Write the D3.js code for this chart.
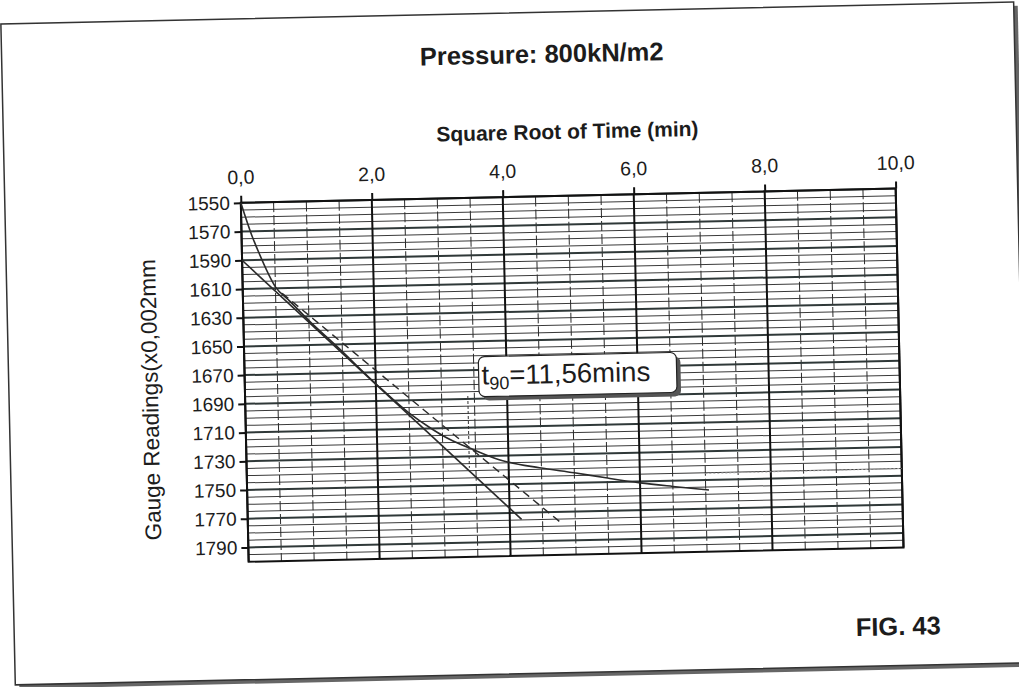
<!DOCTYPE html>
<html>
<head>
<meta charset="utf-8">
<script src="https://cdn.jsdelivr.net/npm/d3@7"></script>
<style>
  body { margin: 0; background: #fff; }
  text { font-family: "Liberation Sans", Arial, sans-serif; fill: #1c1c1c; }
</style>
</head>
<body>
<svg id="chart" width="1019" height="687"></svg>
<script>
// ---------- data ----------
const titleText = "Pressure: 800kN/m2";
const xAxisTitle = "Square Root of Time (min)";
const yAxisTitle = "Gauge Readings(x0,002mm";
const figLabel = "FIG. 43";
const xTickValues = [0, 2, 4, 6, 8, 10];
const yTickValues = [1550, 1570, 1590, 1610, 1630, 1650, 1670, 1690, 1710, 1730, 1750, 1770, 1790];

// consolidation curve (square root of time vs gauge reading)
const curveSqrtT   = [0, 0.15, 0.25, 0.5, 0.71, 1.0, 1.41, 2.0, 2.5, 2.83, 3.0, 3.16, 3.4, 3.87, 4.47, 5.0, 5.48, 6.0, 6.5, 7.05];
const curveReading = [1550, 1572, 1584, 1609, 1619, 1633, 1651, 1678, 1699, 1710, 1715, 1719, 1724, 1733, 1739, 1743, 1747, 1751, 1754, 1757];

// initial straight-line (tangent) fit
const tangentSqrtT   = [0, 4.18];
const tangentReading = [1590, 1774.6];

// 1.15x abscissa line (dashed)
const offsetSqrtT   = [0.6, 4.79];
const offsetReading = [1613.6, 1778];

// t90 marker
const t90SqrtT = 3.4;
const t90Readings = [1688, 1738];
const t90Label = { main: "t", sub: "90", rest: "=11,56mins" };

// faint dotted trace at the right
const traceSqrtT = [7.0, 10.0];
const traceReading = [1745.5, 1745];

// ---------- layout ----------
const svg = d3.select("#chart");
const root = svg.append("g").attr("transform", "rotate(-1.25,510,345)");

const plot = { left: 244, right: 899, top: 197, bottom: 556 };
const x = d3.scaleLinear().domain([0, 10]).range([plot.left, plot.right]);
const y = d3.scaleLinear().domain([1550, 1800]).range([plot.top, plot.bottom]);

// outer frame with shadow
root.append("rect").attr("x", 12).attr("y", 17).attr("width", 1013).attr("height", 661)
  .attr("fill", "#666");
root.append("rect").attr("x", 8).attr("y", 13).attr("width", 1013).attr("height", 661)
  .attr("fill", "#fff").attr("stroke", "#333").attr("stroke-width", 1.5);

// titles
root.append("text").attr("x", 548).attr("y", 63.5).attr("text-anchor", "middle")
  .attr("font-size", 25.5).attr("font-weight", "bold").text(titleText);

root.append("text").attr("x", 572).attr("y", 140).attr("text-anchor", "middle")
  .attr("font-size", 21).attr("font-weight", "bold").text(xAxisTitle);

root.append("text").attr("transform", "translate(157,392) rotate(-90)")
  .attr("text-anchor", "middle").attr("font-size", 22.5).text(yAxisTitle);

root.append("text").attr("x", 892).attr("y", 643.5).attr("text-anchor", "middle")
  .attr("font-size", 25.5).attr("font-weight", "bold").text(figLabel);

// ---------- grid ----------
const grid = root.append("g");
const minorY = d3.range(1555, 1800, 5).filter(v => (v - 1550) % 20 !== 0);
grid.selectAll("line.hminor").data(minorY).join("line")
  .attr("x1", plot.left).attr("x2", plot.right)
  .attr("y1", d => y(d)).attr("y2", d => y(d))
  .attr("stroke", "#3a3a3a").attr("stroke-width", 1);

const minorX = d3.range(0.5, 10, 0.5).filter(v => v % 2 !== 0);
grid.selectAll("line.vminor").data(minorX).join("line")
  .attr("y1", plot.top).attr("y2", plot.bottom)
  .attr("x1", d => x(d)).attr("x2", d => x(d))
  .attr("stroke", "#2a2a2a").attr("stroke-width", 1).attr("stroke-dasharray", "10,3");

grid.selectAll("line.hmajor").data(yTickValues).join("line")
  .attr("x1", plot.left).attr("x2", plot.right)
  .attr("y1", d => y(d)).attr("y2", d => y(d))
  .attr("stroke", "#2f3838").attr("stroke-width", 2);

grid.selectAll("line.vmajor").data(xTickValues).join("line")
  .attr("y1", plot.top).attr("y2", plot.bottom)
  .attr("x1", d => x(d)).attr("x2", d => x(d))
  .attr("stroke", "#111").attr("stroke-width", 2);

// plot border
root.append("rect").attr("x", plot.left).attr("y", plot.top)
  .attr("width", plot.right - plot.left).attr("height", plot.bottom - plot.top)
  .attr("fill", "none").attr("stroke", "#111").attr("stroke-width", 2);

// ---------- axes ----------
const fmtX = d => d3.format(".1f")(d).replace(".", ",");
const xAxis = root.append("g").attr("transform", `translate(0,${plot.top})`)
  .call(d3.axisTop(x).tickValues(xTickValues).tickFormat(fmtX).tickSize(7).tickSizeOuter(0).tickPadding(12));
const yAxis = root.append("g").attr("transform", `translate(${plot.left},0)`)
  .call(d3.axisLeft(y).tickValues(yTickValues).tickFormat(d3.format("d")).tickSize(7).tickSizeOuter(0).tickPadding(4));
[xAxis, yAxis].forEach(a => {
  a.select(".domain").remove();
  a.selectAll(".tick line").attr("stroke", "#111").attr("stroke-width", 2);
  a.selectAll(".tick text").attr("fill", "#1c1c1c")
    .attr("font-family", '"Liberation Sans", Arial, sans-serif');
});
xAxis.selectAll(".tick text").attr("font-size", 19.5);
yAxis.selectAll(".tick text").attr("font-size", 19);

// ---------- series ----------
const line = d3.line().x(d => x(d[0])).y(d => y(d[1]));

root.append("path").datum(traceSqrtT.map((t, i) => [t, traceReading[i]]))
  .attr("d", line).attr("fill", "none").attr("stroke", "#aaa")
  .attr("stroke-width", 1).attr("stroke-dasharray", "2,2");

root.append("path").datum(tangentSqrtT.map((t, i) => [t, tangentReading[i]]))
  .attr("d", line).attr("fill", "none").attr("stroke", "#2a2a2a").attr("stroke-width", 1.6);

root.append("path").datum(offsetSqrtT.map((t, i) => [t, offsetReading[i]]))
  .attr("d", line).attr("fill", "none").attr("stroke", "#2a2a2a")
  .attr("stroke-width", 1.4).attr("stroke-dasharray", "8,5");

root.append("path").datum(curveSqrtT.map((t, i) => [t, curveReading[i]]))
  .attr("d", line.curve(d3.curveMonotoneX)).attr("fill", "none")
  .attr("stroke", "#2a2a2a").attr("stroke-width", 1.6);

root.append("line")
  .attr("x1", x(t90SqrtT)).attr("x2", x(t90SqrtT))
  .attr("y1", y(t90Readings[0])).attr("y2", y(t90Readings[1]))
  .attr("stroke", "#333").attr("stroke-width", 1).attr("stroke-dasharray", "3,2");

// ---------- t90 callout ----------
const box = { x: 478, y: 356, w: 198, h: 40 };
root.append("rect").attr("x", box.x + 4).attr("y", box.y + 4).attr("width", box.w).attr("height", box.h)
  .attr("rx", 6).attr("fill", "#555");
root.append("rect").attr("x", box.x).attr("y", box.y).attr("width", box.w).attr("height", box.h)
  .attr("rx", 6).attr("fill", "#fff").attr("stroke", "#222").attr("stroke-width", 1.2);
const lbl = root.append("text").attr("x", box.x + 3).attr("y", 384).attr("font-size", 27.5);
lbl.append("tspan").text(t90Label.main);
lbl.append("tspan").attr("font-size", 18).attr("dy", 5).text(t90Label.sub);
lbl.append("tspan").attr("dy", -5).text(t90Label.rest);
</script>
</body>
</html>
